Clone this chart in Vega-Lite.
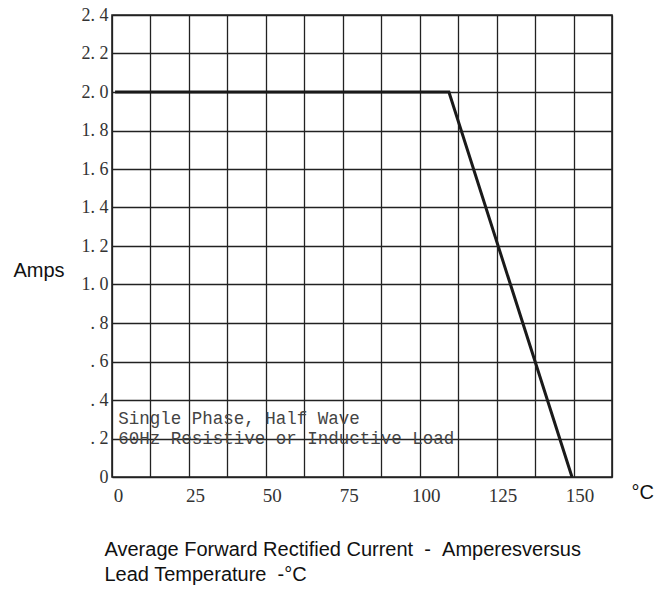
{
  "$schema": "https://vega.github.io/schema/vega-lite/v6.json",
  "width": 500,
  "height": 462,
  "autosize": "none",
  "padding": {"left": 112, "top": 15, "right": 58, "bottom": 113},
  "background": "white",
  "config": {"view": {"stroke": "#222222", "strokeWidth": 1.6}},
  "title": {
    "text": "°C",
    "orient": "right",
    "anchor": "end",
    "frame": "group",
    "angle": 0,
    "align": "left",
    "baseline": "middle",
    "offset": -9,
    "dy": 16,
    "font": "Liberation Sans",
    "fontSize": 20,
    "fontWeight": "normal",
    "color": "#111111"
  },
  "layer": [
    {
      "data": {"values": [
        {"temp": 1, "amps": 2.0},
        {"temp": 109.5, "amps": 2.0},
        {"temp": 149.5, "amps": 0}
      ]},
      "mark": {"type": "line", "color": "#1a1a1a", "strokeWidth": 3, "clip": false},
      "encoding": {
        "x": {
          "field": "temp", "type": "quantitative",
          "scale": {"domain": [0, 162.5], "nice": false, "zero": false},
          "axis": {
            "values": [0, 12.5, 25, 37.5, 50, 62.5, 75, 87.5, 100, 112.5, 125, 137.5, 150, 162.5],
            "tickCount": 40,
            "grid": true, "gridColor": "#222222", "gridWidth": 1.3, "gridOpacity": 1,
            "domain": false, "ticks": false,
            "labelExpr": "datum.value % 25 == 0 && datum.value <= 150 ? format(datum.value, 'd') : ''",
            "labelFont": "Liberation Serif", "labelFontSize": 19, "labelColor": "#333333",
            "labelPadding": 9, "labelOffset": 6, "labelFlush": false, "labelOverlap": false,
            "title": ["Average Forward Rectified Current\u00a0\u00a0-\u00a0\u00a0Amperesversus", "Lead Temperature\u00a0\u00a0-°C"],
            "titleFont": "Liberation Sans", "titleFontSize": 20, "titleFontWeight": "normal",
            "titleColor": "#111111", "titleAlign": "left", "titleAnchor": "start",
            "titleBaseline": "top", "titleX": -8, "titleY": 62, "titleLineHeight": 25
          }
        },
        "y": {
          "field": "amps", "type": "quantitative",
          "scale": {"domain": [0, 2.4], "nice": false, "zero": false},
          "axis": {
            "values": [0, 0.2, 0.4, 0.6, 0.8, 1.0, 1.2, 1.4, 1.6, 1.8, 2.0, 2.2, 2.4],
            "tickCount": 40,
            "grid": true, "gridColor": "#222222", "gridWidth": 1.3, "gridOpacity": 1,
            "domain": false, "ticks": false,
            "labelExpr": "datum.value == 0 ? '0\u00a0\u00a0' : (datum.value < 0.99 ? '. ' + format(datum.value * 10, 'd') + '\u00a0' : replace(format(datum.value, '.1f'), '.', '. '))",
            "labelFont": "Liberation Serif", "labelFontSize": 18, "labelColor": "#333333",
            "labelPadding": 4, "labelOverlap": false, "labelFlush": false,
            "title": "Amps", "titleAngle": 0, "titleFont": "Liberation Sans", "titleFontSize": 20,
            "titleFontWeight": "normal", "titleColor": "#111111", "titleAlign": "left",
            "titleBaseline": "middle", "titleX": -99, "titleY": 255
          }
        }
      }
    },
    {
      "data": {"values": [
        {"temp": 2, "amps": 0.30, "note": "Single Phase, Half Wave"},
        {"temp": 2, "amps": 0.195, "note": "60Hz Resistive or Inductive Load"}
      ]},
      "mark": {"type": "text", "font": "Liberation Mono", "fontSize": 17.5, "align": "left", "baseline": "middle", "color": "#444444"},
      "encoding": {
        "x": {"field": "temp", "type": "quantitative"},
        "y": {"field": "amps", "type": "quantitative"},
        "text": {"field": "note"}
      }
    }
  ]
}
